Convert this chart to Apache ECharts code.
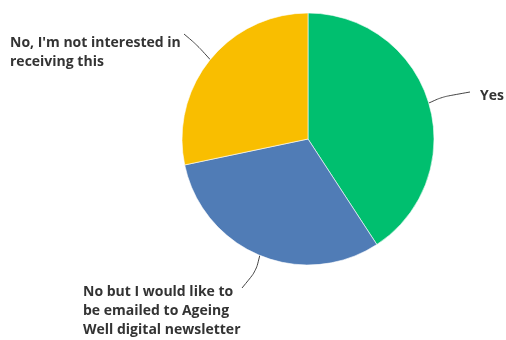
<!DOCTYPE html>
<html>
<head>
<meta charset="utf-8">
<script src="https://cdn.jsdelivr.net/npm/echarts@6/dist/echarts.min.js"></script>
<style>
  html, body { margin: 0; padding: 0; background: #fff; }
  #chart { width: 506px; height: 340px; }
</style>
</head>
<body>
<div id="chart"></div>
<script>
// Survey answers and their share of responses (%)
var answers = [
  'Yes',
  'No but I would like to\nbe emailed to Ageing\nWell digital newsletter',
  "No, I'm not interested in\nreceiving this"
];
var shares = [40.8, 30.9, 28.3];
var colors = ['#00bf6f', '#507cb6', '#f9be00'];

// Outside label placement: text block anchor, leader-line bend and end
var labelSpots = [
  { x: 480, y: 96.5, bend: [442, 97], end: [470, 92] },
  { x: 83, y: 311, bend: [256, 271], end: [242, 288] },
  { x: 10, y: 52.5, bend: [197, 45], end: [184, 34] }
];

var chart = echarts.init(document.getElementById('chart'));
chart.setOption({
  animation: false,
  series: [{
    type: 'pie',
    center: [308, 139],
    radius: 126,
    startAngle: 90,
    clockwise: true,
    itemStyle: { borderColor: '#ffffff', borderWidth: 0.6 },
    label: {
      show: true,
      position: 'outside',
      color: '#333333',
      fontFamily: 'Open Sans',
      fontWeight: 700,
      fontSize: 14,
      lineHeight: 19,
      width: 220,
      overflow: 'none'
    },
    labelLine: {
      show: true,
      length: 15,
      length2: 20,
      smooth: 0.3,
      lineStyle: { color: '#444444', width: 1 }
    },
    labelLayout: function (p) {
      var s = labelSpots[p.dataIndex];
      var start = p.labelLinePoints ? p.labelLinePoints[0] : s.bend;
      return {
        x: s.x, y: s.y, align: 'left', verticalAlign: 'middle',
        labelLinePoints: [start, s.bend, s.end]
      };
    },
    data: answers.map(function (name, i) {
      return { name: name, value: shares[i], itemStyle: { color: colors[i] } };
    })
  }]
});
</script>
</body>
</html>
